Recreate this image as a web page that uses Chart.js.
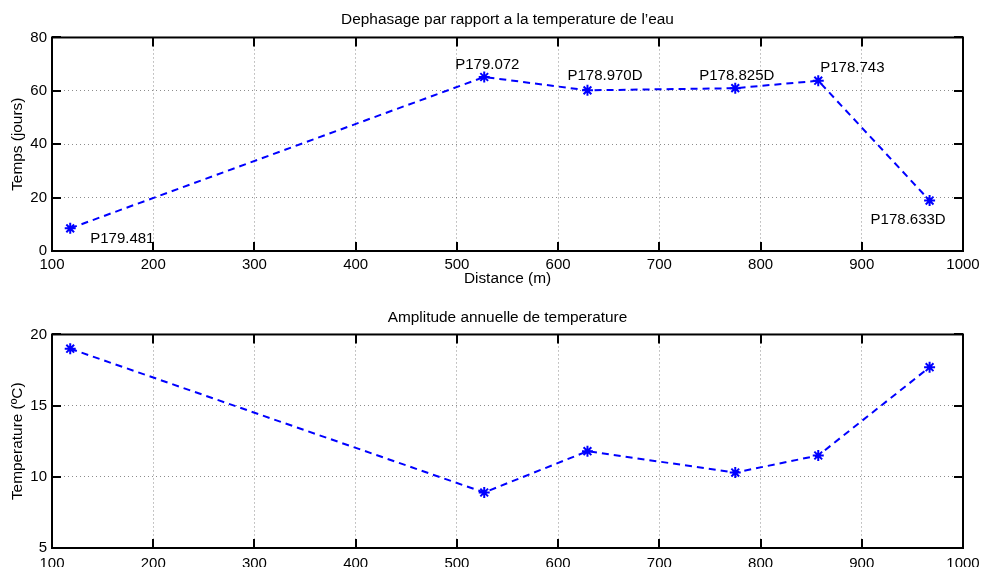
<!DOCTYPE html>
<html>
<head>
<meta charset="utf-8">
<script src="https://cdn.jsdelivr.net/npm/chart.js@4/dist/chart.umd.min.js"></script>
<style>
  html, body { margin: 0; padding: 0; background: #fff; overflow: hidden; width: 983px; height: 567px; }
  canvas { position: absolute; left: 0; }
  #chart-phase { top: 0; }
  #chart-amp { top: 290px; }
</style>
</head>
<body>
<canvas id="chart-phase" width="983" height="290"></canvas>
<canvas id="chart-amp" width="983" height="290"></canvas>
<script>
// ─── Data ─────────────────────────────────────────────────────────────────
const distance = [118, 527, 629, 775, 857, 967];
const dephasage = [8.5, 65.2, 60.2, 61.0, 63.8, 18.9];
const amplitude = [19.0, 8.9, 11.8, 10.3, 11.5, 17.7];
const pointNames = ['P179.481', 'P179.072', 'P178.970D', 'P178.825D', 'P178.743', 'P178.633D'];

// label placement in pixels relative to the point (left edge, vertical middle)
const nameOffsets = [[20, 11], [-29, -12], [-20, -14], [-36, -12], [2, -13], [-59, 19]];

const FONT = { family: '"Liberation Sans", Arial, Helvetica, sans-serif', size: 15, weight: 'normal' };
const TITLE_FONT = { ...FONT, size: 15.4 };
const BLUE = '#0000ff';

// box round the plot with inward tick marks, like the original
const boxPlugin = {
  id: 'box',
  afterDatasetsDraw(chart, args, opts) {
    const { ctx, chartArea: a, scales } = chart;
    ctx.save();
    ctx.strokeStyle = '#000';
    ctx.lineWidth = 2;
    ctx.setLineDash([]);
    const L = 9;
    ctx.beginPath();
    scales.x.ticks.forEach(t => {
      const px = Math.round(scales.x.getPixelForValue(t.value));
      ctx.moveTo(px, a.top); ctx.lineTo(px, a.top + L);
      ctx.moveTo(px, a.bottom); ctx.lineTo(px, a.bottom - L);
    });
    scales.y.ticks.forEach(t => {
      const py = Math.round(scales.y.getPixelForValue(t.value));
      ctx.moveTo(a.left, py); ctx.lineTo(a.left + L, py);
      ctx.moveTo(a.right, py); ctx.lineTo(a.right - L, py);
    });
    ctx.stroke();
    ctx.strokeRect(a.left, a.top, a.right - a.left, a.bottom - a.top);

    if (opts.names) {
      ctx.fillStyle = '#000';
      ctx.font = FONT.size + 'px ' + FONT.family;
      ctx.textAlign = 'left';
      ctx.textBaseline = 'middle';
      const pts = chart.getDatasetMeta(0).data;
      opts.names.forEach((n, i) => {
        ctx.fillText(n, pts[i].x + nameOffsets[i][0], pts[i].y + nameOffsets[i][1]);
      });
    }
    ctx.restore();
  }
};

function makeChart(id, cfg) {
  return new Chart(document.getElementById(id), {
    type: 'line',
    data: {
      datasets: [{
        data: distance.map((d, i) => ({ x: d, y: cfg.values[i] })),
        borderColor: BLUE,
        backgroundColor: BLUE,
        borderWidth: 2,
        borderDash: [7, 5],
        pointStyle: 'star',
        pointRadius: 5.5,
        pointBorderWidth: 2,
        pointBorderColor: BLUE,
        tension: 0,
        fill: false,
      }],
    },
    options: {
      responsive: false,
      animation: false,
      devicePixelRatio: 1,
      layout: { padding: { top: 0, right: 20, bottom: 0, left: 0 } },
      plugins: {
        legend: { display: false },
        tooltip: { enabled: false },
        title: {
          display: true,
          text: cfg.title,
          fullSize: false,
          color: '#000',
          font: TITLE_FONT,
          padding: cfg.titlePad,
        },
        box: { names: cfg.names },
      },
      scales: {
        x: {
          type: 'linear',
          min: 100, max: 1000,
          ticks: { stepSize: 100, color: '#000', font: FONT, padding: cfg.xPad, maxRotation: 0, callback: v => String(v) },
          grid: { color: 'rgba(0,0,0,0.45)', lineWidth: 1, drawTicks: false },
          border: { display: false, dash: [1, 3] },
          title: { display: !!cfg.xTitle, text: cfg.xTitle, color: '#000', font: TITLE_FONT, padding: { top: 0, bottom: 2 } },
          afterFit: s => { s.height = cfg.xHeight; s.paddingLeft = 0; s.paddingRight = 0; },
        },
        y: {
          min: cfg.yMin, max: cfg.yMax,
          ticks: { stepSize: cfg.yStep, color: '#000', font: FONT, padding: 5 },
          grid: { color: 'rgba(0,0,0,0.45)', lineWidth: 1, drawTicks: false },
          border: { display: false, dash: [1, 3] },
          title: { display: true, text: cfg.yTitle, color: '#000', font: TITLE_FONT, padding: { top: 9, bottom: 0 } },
          afterFit: s => { s.width = 52; s.paddingTop = 0; s.paddingBottom = 0; },
        },
      },
    },
    plugins: [boxPlugin],
  });
}

makeChart('chart-phase', {
  values: dephasage,
  title: "Dephasage par rapport a la temperature de l’eau",
  titlePad: { top: 11, bottom: 8 },
  names: pointNames,
  xTitle: 'Distance (m)',
  xHeight: 39,
  xPad: 5,
  yMin: 0, yMax: 80, yStep: 20,
  yTitle: 'Temps (jours)',
});

makeChart('chart-amp', {
  values: amplitude,
  title: 'Amplitude annuelle de temperature',
  titlePad: { top: 19, bottom: 7 },
  names: null,
  xTitle: '',
  xHeight: 32,
  xPad: 7,
  yMin: 5, yMax: 20, yStep: 5,
  yTitle: 'Temperature (ºC)',
});
</script>
</body>
</html>
